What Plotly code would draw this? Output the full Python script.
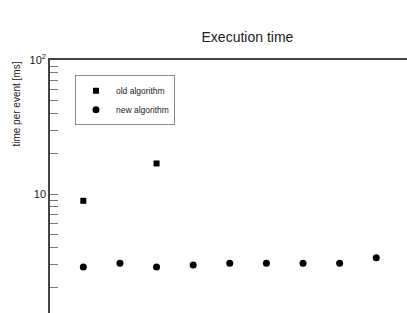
import plotly.graph_objects as go

x_vals = [1, 2, 3, 4, 5, 6, 7, 8, 9]
old_x = [1, 3]
old_vals = [8.9, 16.9]
new_vals = [2.85, 3.04, 2.85, 2.95, 3.04, 3.04, 3.04, 3.04, 3.35]
major_ticks = [10, 100]
major_labels = ["10", "10<sup>2</sup>"]
minor_ticks = [2, 3, 4, 5, 6, 7, 8, 9, 20, 30, 40, 50, 60, 70, 80, 90]

font = "Liberation Sans, Arial, sans-serif"
ink = "#222222"

all_ticks = sorted(major_ticks + minor_ticks)
all_labels = [major_labels[major_ticks.index(v)] if v in major_ticks else "" for v in all_ticks]

fig = go.Figure()
fig.add_trace(go.Scatter(x=old_x, y=old_vals, mode="markers", name="old algorithm",
                         marker=dict(symbol="square", size=6, color="black")))
fig.add_trace(go.Scatter(x=x_vals, y=new_vals, mode="markers", name="new algorithm",
                         marker=dict(symbol="circle", size=7, color="black")))

fig.update_layout(
    width=407, height=313,
    margin=dict(l=50, r=0, t=60, b=0),
    paper_bgcolor="white", plot_bgcolor="white",
    font=dict(family=font, color=ink),
    title=dict(text="Execution time", x=0.608, xanchor="center", y=0.88, yanchor="middle",
               font=dict(size=14, color=ink)),
    showlegend=True,
    legend=dict(x=0.07, y=0.94, xanchor="left", yanchor="top",
                bordercolor="#888888", borderwidth=1, bgcolor="white",
                font=dict(size=8.5, color=ink), itemwidth=30, tracegroupgap=0),
    xaxis=dict(range=[0.09, 9.84], side="top", showline=True, linecolor="#444444", linewidth=1.5,
               showticklabels=False, ticks="", showgrid=False, zeroline=False),
    yaxis=dict(type="log", range=[0.112, 2], showline=True, linecolor="#444444", linewidth=1.5,
               tickmode="array", tickvals=all_ticks, ticktext=all_labels,
               ticks="inside", ticklen=8, tickwidth=1, tickcolor="#777777",
               tickfont=dict(size=11, color=ink), showgrid=False, zeroline=False),
    annotations=[dict(text="time per event [ms]", textangle=-90, xref="paper", yref="paper",
                      x=-0.095, y=1.0, xanchor="center", yanchor="top", showarrow=False,
                      font=dict(size=10, color=ink))],
)

fig.write_html("out.html")
